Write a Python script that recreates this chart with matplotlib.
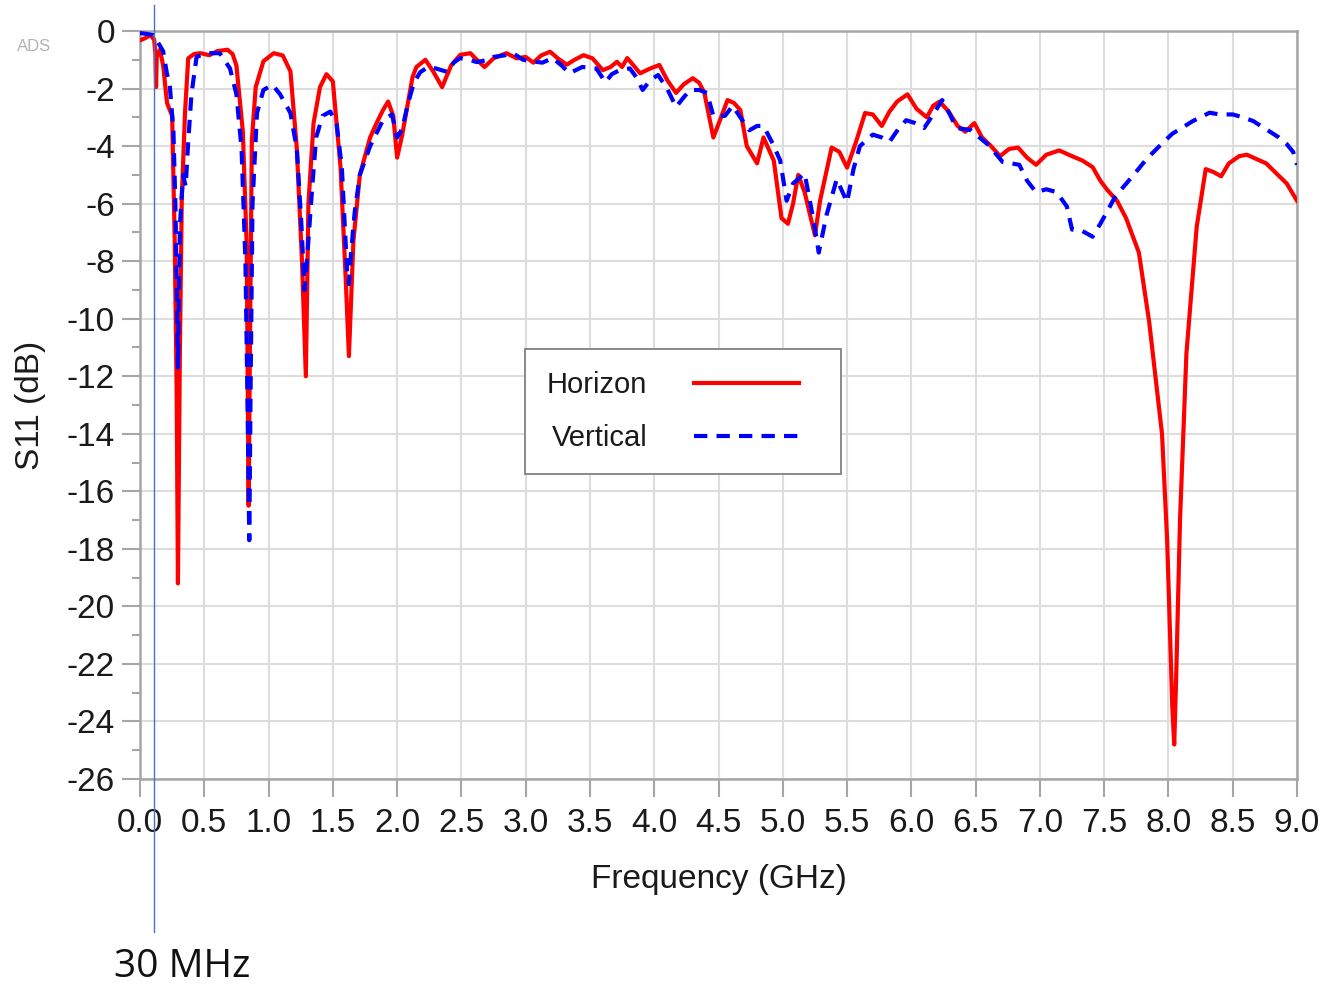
import numpy as np
import matplotlib
matplotlib.use("Agg")
import matplotlib.pyplot as plt

plt.rcParams['font.family'] = ['Liberation Sans', 'DejaVu Sans']

# Horizon (red, solid)
freq_h = [0.00, 0.04, 0.08, 0.11, 0.12, 0.125, 0.13, 0.155, 0.18, 0.21, 0.25, 0.27, 0.285, 0.295,
          0.31, 0.325, 0.35, 0.375, 0.42, 0.47, 0.54, 0.60, 0.68, 0.72, 0.75, 0.80, 0.83, 0.845,
          0.855, 0.87, 0.90, 0.96, 1.04, 1.11, 1.17, 1.22, 1.26, 1.29, 1.31, 1.35, 1.40, 1.45,
          1.50, 1.56, 1.60, 1.625, 1.66, 1.71, 1.79, 1.84, 1.89, 1.93, 1.97, 2.00, 2.04, 2.08,
          2.12, 2.15, 2.22, 2.28, 2.35, 2.42, 2.49, 2.57, 2.62, 2.68, 2.75, 2.85, 2.93, 3.00,
          3.06, 3.12, 3.19, 3.25, 3.32, 3.38, 3.45, 3.52, 3.60, 3.66, 3.71, 3.75, 3.79, 3.84,
          3.89, 3.97, 4.04, 4.10, 4.17, 4.23, 4.30, 4.35, 4.39, 4.46, 4.52, 4.57, 4.62, 4.67,
          4.72, 4.80, 4.85, 4.93, 4.99, 5.04, 5.08, 5.12, 5.17, 5.25, 5.29, 5.38, 5.44, 5.50,
          5.57, 5.64, 5.70, 5.77, 5.83, 5.89, 5.97, 6.04, 6.12, 6.17, 6.22, 6.29, 6.36, 6.42,
          6.49, 6.55, 6.62, 6.69, 6.76, 6.83, 6.90, 6.97, 7.05, 7.15, 7.25, 7.33, 7.41, 7.47,
          7.52, 7.60, 7.67, 7.77, 7.85, 7.95, 7.99, 8.03, 8.045, 8.06, 8.09, 8.14, 8.22, 8.29,
          8.35, 8.41, 8.47, 8.55, 8.61, 8.66, 8.76, 8.84, 8.92, 8.98, 9.00]
s11_h = [-0.32, -0.25, -0.14, -0.3, -0.8, -1.95, -0.9, -0.65, -1.2, -2.5, -2.95, -7.3, -12.5, -19.2,
         -11.2, -5.8, -2.85, -0.95, -0.8, -0.77, -0.84, -0.7, -0.65, -0.8, -1.2, -3.5, -7.5, -16.5,
         -11.0, -3.8, -1.95, -1.05, -0.77, -0.85, -1.4, -4.1, -8.0, -12.0, -6.0, -3.2, -1.95, -1.5,
         -1.75, -4.75, -8.6, -11.3, -7.3, -5.0, -3.7, -3.2, -2.75, -2.45, -2.95, -4.4, -3.6, -2.6,
         -1.6, -1.25, -1.0, -1.4, -1.95, -1.2, -0.83, -0.77, -1.0, -1.25, -0.95, -0.77, -0.95, -0.9,
         -1.1, -0.85, -0.72, -0.95, -1.17, -1.0, -0.84, -0.95, -1.36, -1.25, -1.07, -1.25, -0.94, -1.2,
         -1.47, -1.3, -1.18, -1.7, -2.15, -1.85, -1.64, -1.8, -2.15, -3.7, -3.0, -2.4, -2.5, -2.75,
         -4.0, -4.6, -3.7, -4.5, -6.5, -6.7, -6.0, -5.0, -5.6, -7.1, -5.9, -4.05, -4.2, -4.75,
         -3.85, -2.85, -2.9, -3.3, -2.8, -2.45, -2.2, -2.7, -3.0, -2.6, -2.45, -2.8, -3.3, -3.5,
         -3.2, -3.7, -4.0, -4.35, -4.1, -4.05, -4.4, -4.65, -4.3, -4.15, -4.35, -4.5, -4.73, -5.2,
         -5.5, -5.9, -6.5, -7.7, -10.1, -14.0, -17.7, -23.5, -24.8, -22.5, -17.0, -11.2, -6.8, -4.8,
         -4.9, -5.05, -4.6, -4.35, -4.3, -4.4, -4.6, -4.95, -5.3, -5.75, -5.9]

# Vertical (blue, dashed)
freq_v = [0.00, 0.05, 0.10, 0.14, 0.18, 0.21, 0.23, 0.26, 0.275, 0.285, 0.295, 0.31, 0.335, 0.355,
          0.375, 0.40, 0.44, 0.52, 0.62, 0.70, 0.75, 0.79, 0.82, 0.835, 0.85, 0.86, 0.875, 0.91,
          0.96, 1.03, 1.09, 1.17, 1.22, 1.255, 1.28, 1.30, 1.34, 1.37, 1.42, 1.48, 1.53, 1.57,
          1.61, 1.625, 1.64, 1.67, 1.71, 1.79, 1.89, 1.96, 2.00, 2.04, 2.08, 2.13, 2.18, 2.24,
          2.30, 2.39, 2.44, 2.49, 2.56, 2.62, 2.71, 2.75, 2.83, 2.90, 2.98, 3.05, 3.13, 3.21,
          3.28, 3.34, 3.44, 3.55, 3.62, 3.67, 3.73, 3.81, 3.86, 3.91, 3.97, 4.03, 4.10, 4.17,
          4.23, 4.28, 4.35, 4.41, 4.46, 4.55, 4.61, 4.67, 4.74, 4.80, 4.85, 4.92, 4.98, 5.03,
          5.08, 5.17, 5.24, 5.28, 5.34, 5.42, 5.50, 5.55, 5.60, 5.70, 5.77, 5.83, 5.90, 5.96,
          6.03, 6.10, 6.17, 6.24, 6.30, 6.35, 6.46, 6.53, 6.60, 6.71, 6.84, 6.90, 6.97, 7.05,
          7.13, 7.21, 7.25, 7.33, 7.41, 7.47, 7.52, 7.58, 7.64, 7.72, 7.83, 7.93, 8.03, 8.11,
          8.19, 8.32, 8.40, 8.50, 8.58, 8.66, 8.79, 8.86, 8.92, 8.97, 9.00]
s11_v = [-0.07, -0.1, -0.14, -0.4, -0.7, -1.5, -1.8, -3.5, -6.0, -8.6, -11.7, -6.8, -5.0, -5.4,
         -3.85, -2.2, -0.9, -0.77, -0.77, -1.3, -2.2, -4.1, -8.0, -12.5, -17.7, -12.5, -6.0, -2.85,
         -2.05, -1.87, -2.2, -2.85, -4.1, -6.7, -9.0, -7.9, -5.4, -3.7, -2.95, -2.8, -3.25, -4.75,
         -8.3, -8.8, -7.8, -6.3, -5.0, -4.0, -3.1, -2.9, -3.7, -3.4, -2.6, -1.8, -1.43, -1.25,
         -1.3, -1.42, -1.1, -0.94, -1.0, -1.08, -1.0, -0.9, -0.85, -0.77, -1.0, -1.05, -1.1, -0.94,
         -1.2, -1.47, -1.25, -1.3, -1.78, -1.5, -1.36, -1.3, -1.6, -2.05, -1.7, -1.53, -2.0, -2.64,
         -2.3, -2.05, -2.05, -2.15, -2.95, -2.95, -2.6, -3.0, -3.45, -3.3, -3.3, -3.9, -4.5, -5.9,
         -5.3, -4.95, -6.6, -7.7, -6.4, -5.15, -5.95, -4.8, -4.0, -3.6, -3.7, -3.85, -3.4, -3.1,
         -3.2, -3.37, -2.9, -2.4, -2.9, -3.37, -3.44, -3.7, -3.96, -4.55, -4.65, -5.2, -5.6, -5.5,
         -5.6, -6.1, -6.9, -6.95, -7.15, -6.7, -6.3, -5.8, -5.47, -5.05, -4.45, -4.0, -3.57, -3.35,
         -3.13, -2.84, -2.9, -2.9, -3.0, -3.13, -3.5, -3.7, -3.93, -4.2, -4.65]

x_ticks = np.arange(0, 9.01, 0.5)
y_ticks = np.arange(-26, 0.1, 2)
marker_freq = 0.11  # where the "30 MHz" marker line sits in the picture

fig = plt.figure(figsize=(13.36, 9.88), dpi=100)
ax = fig.add_axes([0.1048, 0.2115, 0.8660, 0.7571])

ax.plot(freq_h, s11_h, color='#ff0000', lw=3, label='Horizon', zorder=3)
ax.plot(freq_v, s11_v, color='#0000ff', lw=3, linestyle=(0, (3.2, 2.2)), label='Vertical', zorder=4)

ax.set_xlim(0, 9)
ax.set_ylim(-26, 0)
ax.set_xticks(x_ticks)
ax.set_xticklabels([f"{t:.1f}" for t in x_ticks])
ax.set_yticks(y_ticks)
ax.set_yticklabels([f"{int(t)}" for t in y_ticks])
ax.set_yticks(np.arange(-25, 0, 2), minor=True)

ax.grid(True, color='#dddddd', lw=1.5)
ax.set_axisbelow(True)
for s in ax.spines.values():
    s.set_color('#a6a6a6')
    s.set_linewidth(1.8)

ax.tick_params(axis='x', which='major', length=13, width=1.5, color='#a6a6a6',
               labelsize=24, labelcolor='#1a1a1a', pad=8)
ax.tick_params(axis='y', which='major', length=13, width=1.5, color='#a6a6a6',
               labelsize=24, labelcolor='#1a1a1a', pad=5)
ax.tick_params(axis='y', which='minor', length=6, width=1.5, color='#a6a6a6')

ax.set_xlabel('Frequency (GHz)', fontsize=24, color='#1a1a1a')
ax.xaxis.set_label_coords(0.5, -0.113)
ax.xaxis.label.set_va('top')
ax.set_ylabel('S11 (dB)', fontsize=24, color='#1a1a1a')
ax.yaxis.set_label_coords(-0.081, 0.5)

leg = ax.legend(loc='upper left', bbox_to_anchor=(0.3328, 0.4144, 0.2731, 0.1604), mode='expand',
                borderaxespad=0, fontsize=21, markerfirst=False, fancybox=False, framealpha=1,
                edgecolor='#808080', handlelength=3.6, handletextpad=1.6,
                labelspacing=0.85, borderpad=0.75)
leg.get_frame().set_linewidth(1.3)
for t in leg.get_texts():
    t.set_color('#1a1a1a')

# 30 MHz marker line and label
ax.plot([marker_freq, marker_freq], [1.035, -0.205], color='#4a72c4', lw=1,
        transform=ax.get_xaxis_transform(), clip_on=False, zorder=5)
ax.text(marker_freq - 0.31, -0.251, '30 MHz', transform=ax.get_xaxis_transform(),
        fontsize=28, family=['Open Sans', 'DejaVu Sans'], va='center', ha='left', color='#111111')

fig.text(0.013, 0.953, 'ADS', fontsize=12, color='#b3b3b3', va='center')

fig.savefig('out.png', dpi=100)
